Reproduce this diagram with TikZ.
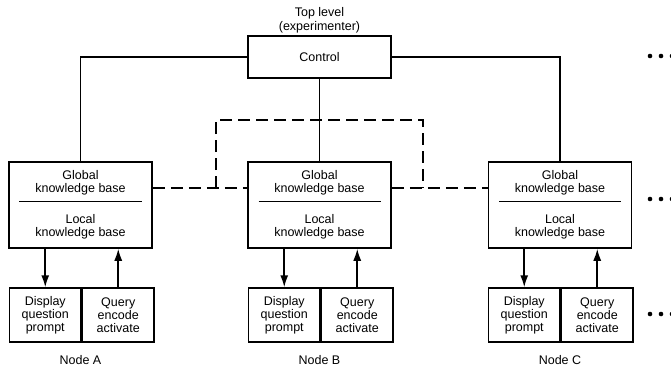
\documentclass[tikz,border=0pt]{standalone}
\usepackage{fontspec}
\setmainfont{Liberation Sans}
\usetikzlibrary{arrows.meta,positioning}

\begin{document}
\begin{tikzpicture}[x=1pt, y=-1pt,
    every node/.style={font=\fontsize{12.5}{13.5}\selectfont},
    box/.style={draw, line width=1.5pt, rectangle, minimum width=143pt, minimum height=42pt, inner sep=0pt, align=center},
    kbase/.style={box, minimum height=86pt},
    iobox/.style={draw, line width=1.5pt, minimum width=71.5pt, minimum height=54pt, inner sep=0pt, align=center, font=\fontsize{12.5}{13}\selectfont},
    wire/.style={draw, line width=1.5pt},
    peer/.style={draw, line width=1.8pt, dash pattern=on 12pt off 6pt},
    flow/.style={draw, line width=1.6pt, -{Latex[length=12pt,width=8pt]}}
]
\useasboundingbox (0,0) rectangle (671,370);

% experimenter on top
\node[box] (ctrl) at (319.5,57) {Control};
\node[align=center, inner sep=1pt, above=1pt of ctrl] (top) {Top level\\(experimenter)};

% the three nodes
\node[kbase] (kbA) at (80.5,205) {Global\\knowledge base\\[-4pt]\rule{122pt}{1pt}\\[7.5pt]Local\\knowledge base};
\node[kbase] (kbB) at (319.5,205) {Global\\knowledge base\\[-4pt]\rule{122pt}{1pt}\\[7.5pt]Local\\knowledge base};
\node[kbase] (kbC) at (560,205) {Global\\knowledge base\\[-4pt]\rule{122pt}{1pt}\\[7.5pt]Local\\knowledge base};

\node[iobox] (dispA) at (45.25,315) {Display\\question\\prompt};
\node[iobox, right=0pt of dispA] (queryA) {Query\\encode\\activate};
\node[iobox] (dispB) at (284.25,315) {Display\\question\\prompt};
\node[iobox, right=0pt of dispB] (queryB) {Query\\encode\\activate};
\node[iobox] (dispC) at (524.25,315) {Display\\question\\prompt};
\node[iobox, right=0pt of dispC] (queryC) {Query\\encode\\activate};

\node (labA) at (80.5,360) {Node A};
\node (labB) at (319.5,360) {Node B};
\node (labC) at (560,360) {Node C};

% control lines
\draw[wire] (ctrl.west) -| (kbA.north);
\draw[wire] (ctrl.east) -| (kbC.north);
\draw[wire] (ctrl.south) -- (kbB.north);

% links between global bases
\coordinate (loopL) at (216,188);
\coordinate (loopR) at (423,188);
\draw[peer] ([yshift=17pt]kbA.east) -- (loopL) -- ([yshift=17pt]kbB.west);
\draw[peer] ([yshift=17pt]kbB.east) -- (loopR) -- ([yshift=17pt]kbC.west);
\draw[peer] (loopL) -- ++(0,-68) -| (loopR);

% display / query arrows
\foreach \n in {A,B,C} {
  \draw[flow] (kb\n.south -| disp\n.north) -- (disp\n.north);
  \draw[flow] (query\n.north) -- (query\n.north |- kb\n.south);
}

% more nodes to the right
\foreach \y in {56,199,314}
  \foreach \x in {650,661,672}
    \fill (\x,\y) circle (2.3pt);
\end{tikzpicture}
\end{document}
